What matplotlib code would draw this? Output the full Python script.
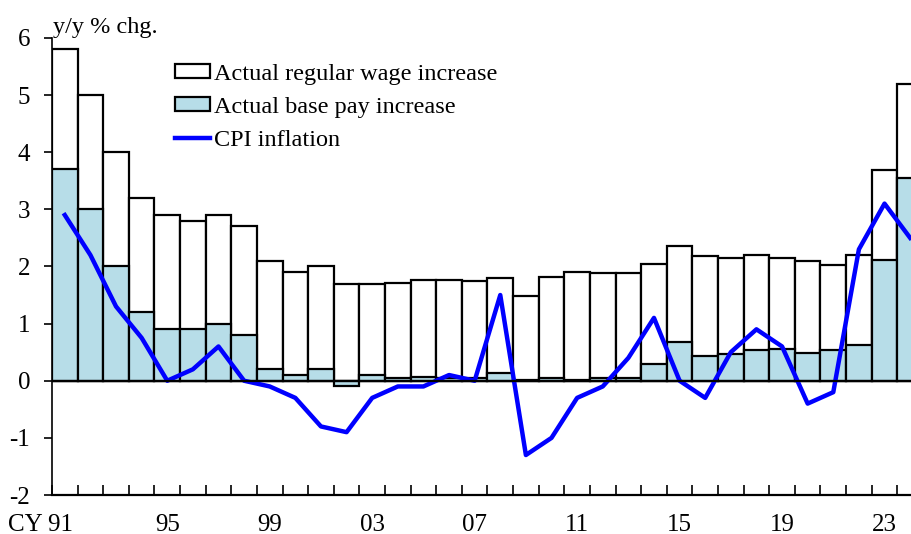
import matplotlib
matplotlib.use("Agg")
import matplotlib.pyplot as plt
import matplotlib.transforms as mtransforms
import numpy as np

years = list(range(1991, 2025))
regular_wage = [5.8, 5.0, 4.0, 3.2, 2.9, 2.8, 2.9, 2.7, 2.1, 1.9,
                2.0, 1.7, 1.7, 1.71, 1.77, 1.77, 1.75, 1.8, 1.49, 1.82,
                1.91, 1.89, 1.89, 2.05, 2.35, 2.19, 2.15, 2.2, 2.14, 2.09,
                2.03, 2.2, 3.69, 5.2]
base_pay = [3.7, 3.0, 2.0, 1.2, 0.9, 0.9, 1.0, 0.8, 0.2, 0.1,
            0.2, -0.1, 0.1, 0.04, 0.06, 0.04, 0.04, 0.13, 0.01, 0.04,
            0.01, 0.04, 0.05, 0.3, 0.68, 0.43, 0.47, 0.54, 0.55, 0.49,
            0.53, 0.62, 2.12, 3.55]
cpi = [2.9, 2.2, 1.3, 0.75, 0.0, 0.2, 0.6, 0.0, -0.1, -0.3,
       -0.8, -0.9, -0.3, -0.1, -0.1, 0.1, 0.0, 1.5, -1.3, -1.0,
       -0.3, -0.1, 0.4, 1.1, 0.0, -0.3, 0.5, 0.9, 0.6, -0.4,
       -0.2, 2.3, 3.1, 2.5]
tick_years = [1991, 1995, 1999, 2003, 2007, 2011, 2015, 2019, 2023]
tick_labels = ["CY 91", "95", "99", "03", "07", "11", "15", "19", "23"]

plt.rcParams['font.family'] = ['Liberation Serif', 'DejaVu Serif']
plt.rcParams['font.size'] = 18

fig = plt.figure(figsize=(9.12, 5.34), dpi=100)
ax = fig.add_axes([0.057, 0.073, 0.955, 0.856])

x = np.array(years)
b1 = ax.bar(x, regular_wage, width=1.0, color='white', edgecolor='black',
            linewidth=1.6, label='Actual regular wage increase', zorder=2)
b2 = ax.bar(x, base_pay, width=1.0, color='#b7dde8', edgecolor='black',
            linewidth=1.6, label='Actual base pay increase', zorder=3)
l1, = ax.plot(x, cpi, color='#0000ff', linewidth=3.2, label='CPI inflation', zorder=4)
ax.axhline(0, color='black', linewidth=1.6, zorder=5)

ax.set_xlim(1990.5, 2024.5)
ax.set_ylim(-2, 6)
ax.set_yticks(range(-2, 7))
ax.set_yticklabels([str(v) for v in range(-2, 7)])
ax.tick_params(axis='y', direction='out', length=5.8, width=1.2, pad=10, labelsize=18)

ax.set_xticks(tick_years)
ax.set_xticklabels(tick_labels)
ax.set_xticks(np.arange(1990.5, 2025.5, 1.0), minor=True)
ax.tick_params(axis='x', which='major', length=0, pad=14, labelsize=18)
ax.tick_params(axis='x', which='minor', direction='in', length=7, width=1.2)

# first label "CY 91": keep "91" centred under its bar
first = ax.get_xticklabels()[0]
first.set_ha('right')
first.set_transform(first.get_transform() +
                    mtransforms.ScaledTranslation(8.5 / 100, 0, fig.dpi_scale_trans))

for s in ['top', 'right']:
    ax.spines[s].set_visible(False)
ax.spines['left'].set_linewidth(1.2)
ax.spines['bottom'].set_linewidth(1.6)

ax.text(0.001, 1.011, "y/y % chg.", transform=ax.transAxes, ha='left',
        va='baseline', fontsize=17.5)

ax.legend([b1, b2, l1],
          ['Actual regular wage increase', 'Actual base pay increase', 'CPI inflation'],
          loc='upper left', bbox_to_anchor=(0.130, 0.965), frameon=False,
          handlelength=1.44, handleheight=0.5, handletextpad=0.16,
          labelspacing=0.5, borderaxespad=0, fontsize=17.5)

fig.savefig("out.png", dpi=100)
